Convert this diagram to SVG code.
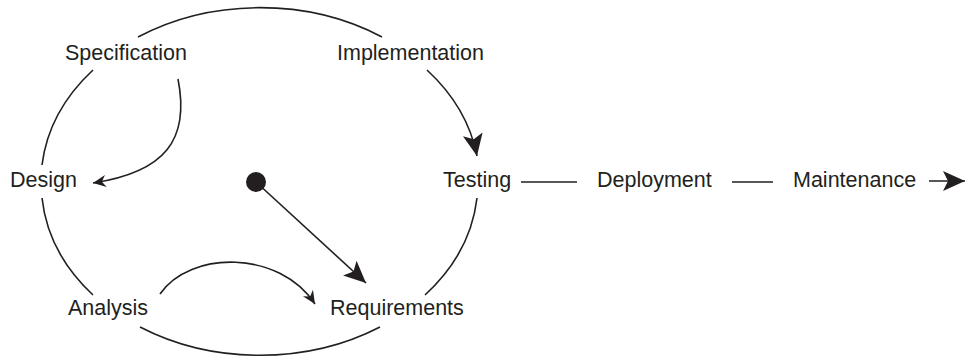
<svg xmlns="http://www.w3.org/2000/svg" width="965" height="357" viewBox="0 0 965 357">
<style>
text{font-family:"Liberation Sans",Arial,sans-serif;font-size:21.5px;fill:#231f20}
.c{fill:none;stroke:#231f20;stroke-width:1.6}
</style>
<defs>
<marker id="big" markerUnits="userSpaceOnUse" markerWidth="24" markerHeight="24" viewBox="-22 -11 24 22" refX="0" refY="0" orient="auto">
<path d="M0,0 L-22,-10 L-17,0 L-22,10 Z" fill="#231f20"/>
</marker>
<marker id="small" markerUnits="userSpaceOnUse" markerWidth="16" markerHeight="16" viewBox="-14 -8 16 16" refX="0" refY="0" orient="auto">
<path d="M0,0 L-13,-6 L-9,0 L-13,6 Z" fill="#231f20"/>
</marker>
</defs>
<g id="connectors">
<path class="c" d="M138,37 A219,173 0 0 1 382,37"/>
<path class="c" d="M93,70 A219,173 0 0 0 42,165"/>
<path class="c" d="M42,198 A219,173 0 0 0 93,295"/>
<path class="c" d="M140,327 A219,173 0 0 0 380,327"/>
<path class="c" d="M425,295 A219,173 0 0 0 477,198"/>
<path class="c" d="M427,70 A219,173 0 0 1 477,156" marker-end="url(#big)"/>
<path class="c" d="M178,79 C190,140 165,172 93,183" marker-end="url(#small)"/>
<path class="c" d="M160,294 C190,250 280,250 315,304" marker-end="url(#small)"/>
<path class="c" d="M256,182 L366,283" marker-end="url(#big)"/>
<path class="c" d="M521,182 H577"/>
<path class="c" d="M732,182 H773"/>
<path class="c" d="M929,181 H965" marker-end="url(#big)"/>
</g>
<g id="start"><circle cx="256" cy="182" r="10" fill="#231f20"/></g>
<g id="specification"><text x="65" y="60">Specification</text></g>
<g id="implementation"><text x="337" y="60">Implementation</text></g>
<g id="design"><text x="10" y="187">Design</text></g>
<g id="testing"><text x="443" y="187">Testing</text></g>
<g id="deployment"><text x="597" y="187">Deployment</text></g>
<g id="maintenance"><text x="793" y="187">Maintenance</text></g>
<g id="analysis"><text x="68" y="315">Analysis</text></g>
<g id="requirements"><text x="330" y="315">Requirements</text></g>
</svg>
